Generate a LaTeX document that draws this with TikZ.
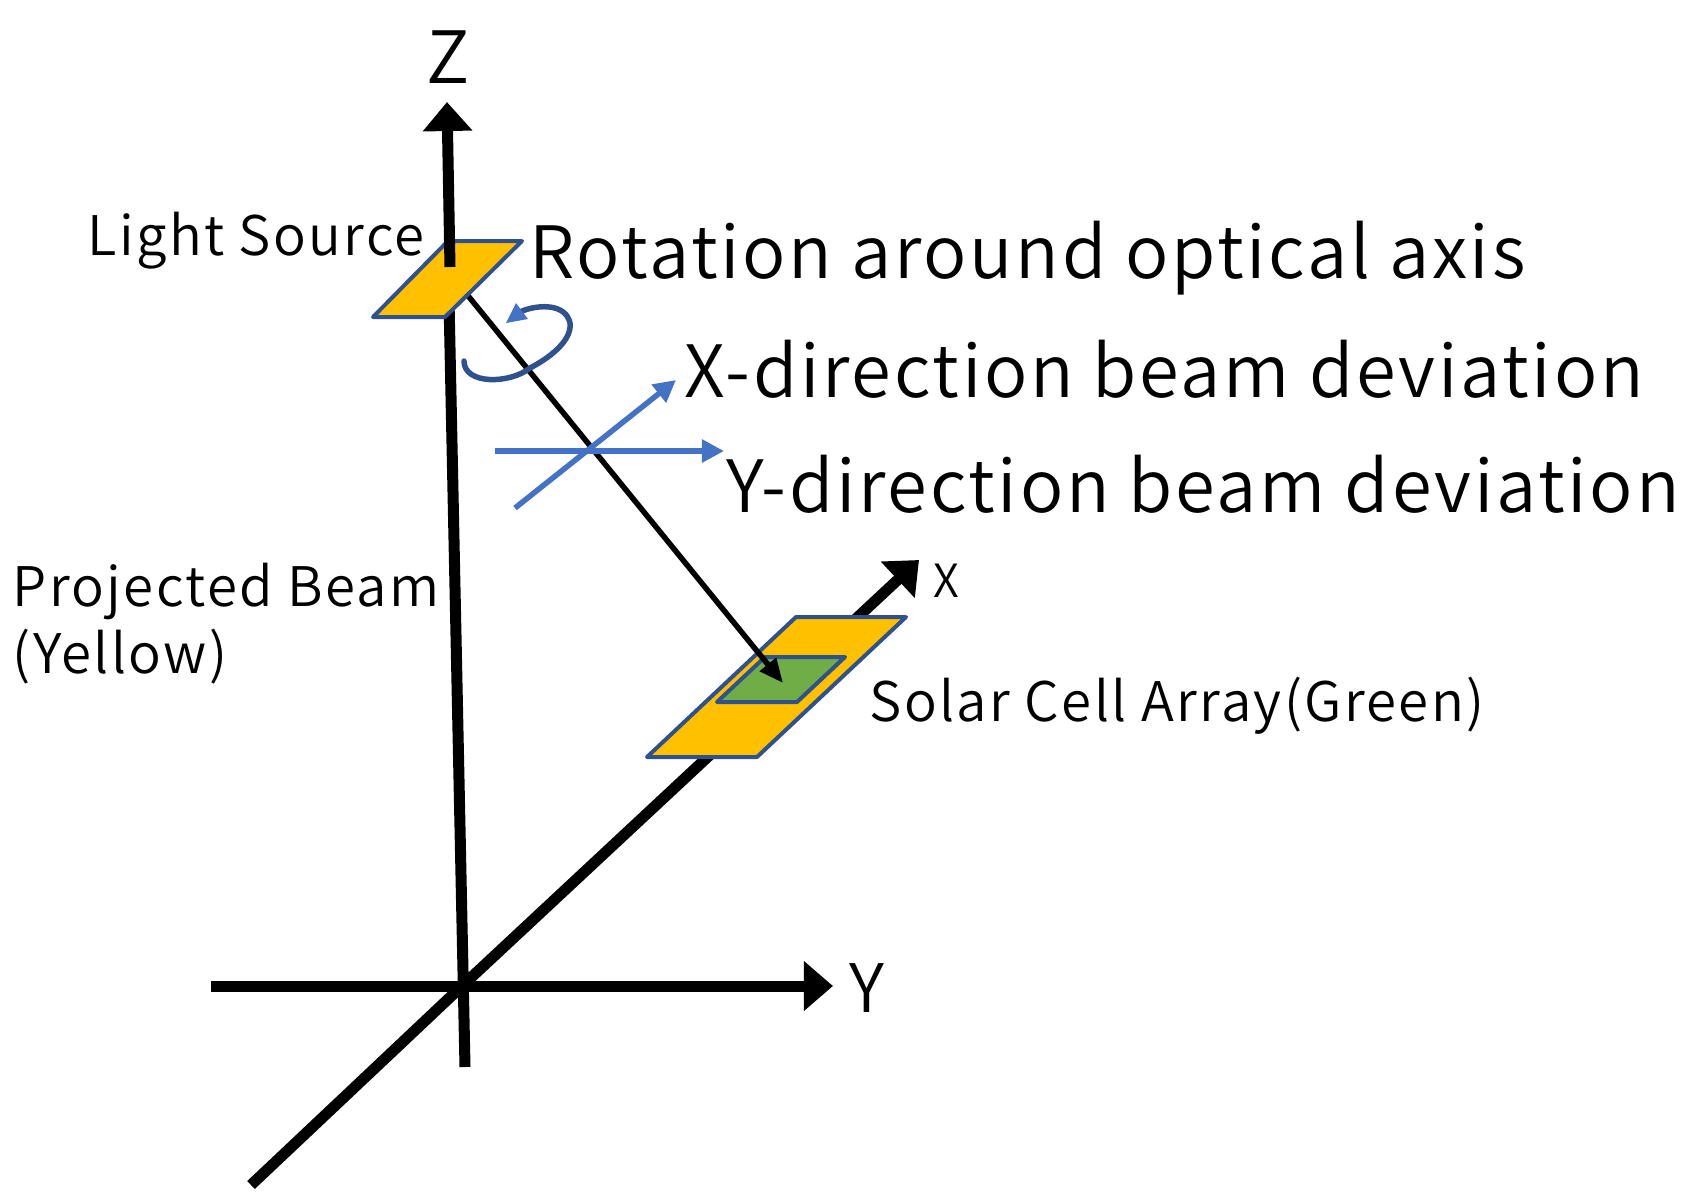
\documentclass[tikz,border=0pt]{standalone}
\usepackage{fontspec}
\setmainfont{Noto Sans CJK JP DemiLight}
\usetikzlibrary{arrows.meta}
\definecolor{plateyellow}{HTML}{FFC000}
\definecolor{cellgreen}{HTML}{70AD47}
\definecolor{edgeblue}{HTML}{2F528F}
\definecolor{devblue}{HTML}{4472C4}
\tikzset{
	axisline/.style={line width=0.11cm, black},
	axishead/.style={axisline, -{Triangle[length=0.29cm, width=0.48cm]}},
	plate/.style={draw=edgeblue, line width=0.04cm, line join=round},
	devarrow/.style={line width=0.055cm, devblue, -{Triangle[length=0.22cm, width=0.22cm]}},
	biglabel/.style={anchor=base west, inner sep=0pt, font=\fontsize{20.5}{25}\selectfont\addfontfeatures{LetterSpace=3.8}},
	smalllabel/.style={anchor=base west, inner sep=0pt, font=\fontsize{15.5}{19}\selectfont\addfontfeatures{LetterSpace=4.3}}
}
\begin{document}
\begin{tikzpicture}[x=0.01cm, y=-0.01cm]
			%%%%% START %%%%%
			\useasboundingbox (0, 0) rectangle (1696, 1199);
			
			\coordinate (origin) at (462, 986);
			
			% axes
			\draw[axisline] (465, 1067) -- (449, 300);
			\draw[axisline] (251, 1185) -- (origin);
			\draw[axishead] (origin) -- (919, 560);
			\draw[axishead] (211, 986) -- (833, 986);
			
			% light source
			\draw[line width=0.055cm] (465, 292) -- (600, 458);
			\draw[plate, fill=plateyellow] (373, 317) -- (445, 317) -- (522, 241) -- (448, 241) -- cycle;
			\draw[axishead] (450, 267) -- (447, 102);
			
			% solar cell array
			\draw[plate, fill=plateyellow] (647, 757) -- (757, 757) -- (906, 617) -- (796, 617) -- cycle;
			\draw[plate, fill=cellgreen] (717, 702) -- (797, 702) -- (845, 657) -- (765, 657) -- cycle;
			\draw[line width=0.055cm, -{Triangle[length=0.24cm, width=0.2cm]}] (600, 458) -- (783, 683);
			
			% rotation
			\draw[line width=0.055cm, color=edgeblue, line cap=round] (464, 361) .. controls (464, 385) and (510, 384) .. (530, 368) .. controls (555, 355) and (572, 338) .. (570, 323) .. controls (566, 304) and (540, 304) .. (522, 311);
			\fill[devblue] (506, 323) -- (516, 303) -- (528, 319) -- cycle;
			
			% deviations
			\draw[devarrow] (495, 451) -- (724, 451);
			\draw[devarrow] (515, 508) -- (676, 380);
			
			% labels
			\node[biglabel] (zlabel) at (426, 83) {Z};
			\node[biglabel, font=\fontsize{19}{23}\selectfont] (ylabel) at (849, 1012) {Y};
			\node[smalllabel, font=\fontsize{13}{16}\selectfont] (xlabel) at (933, 597) {X};
			\node[smalllabel] (sourcelabel) at (87, 255) {Light Source};
			\node[biglabel] (rotlabel) at (529, 278) {Rotation around optical axis};
			\node[biglabel] (xdevlabel) at (684, 397) {X-direction beam deviation};
			\node[biglabel] (ydevlabel) at (726, 512) {Y-direction beam deviation};
			\node[smalllabel] (beamlabel) at (12, 606) {Projected Beam};
			\node[smalllabel] (yellowlabel) at (12, 673) {(Yellow)};
			\node[smalllabel] (celllabel) at (869, 721) {Solar Cell Array(Green)};
			%%%%% END %%%%%
		\end{tikzpicture}
\end{document}
